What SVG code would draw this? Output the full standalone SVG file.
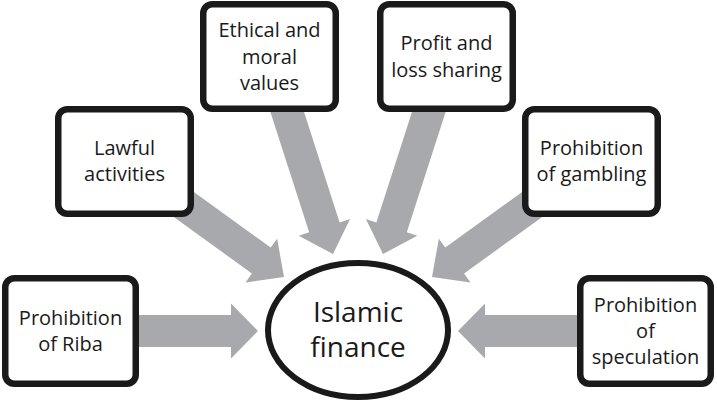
<svg xmlns="http://www.w3.org/2000/svg" width="717" height="403" viewBox="0 0 717 403">
  <style>
    .arrow { fill: #a7a9ac; }
    .box { fill: #ffffff; stroke: #1a1a1a; stroke-width: 6.5; }
    .hub { fill: #ffffff; stroke: #1a1a1a; stroke-width: 6; }
    text { font-family: "Open Sans", "Liberation Sans", sans-serif; fill: #1a1a1a; text-anchor: middle; }
    .lbl { font-size: 20px; }
    .hubtxt { font-size: 28px; }
  </style>
  <g id="connectors">
    <polygon class="arrow" transform="translate(258,331) rotate(0)" points="0,0 -27,-27.5 -27,-16 -158,-16 -158,16 -27,16 -27,27.5"/>
    <polygon class="arrow" transform="translate(284,277) rotate(35.9)" points="0,0 -28,-27 -28,-16 -197,-16 -197,16 -28,16 -28,27"/>
    <polygon class="arrow" transform="translate(333,254) rotate(72.13)" points="0,0 -28,-27 -28,-16 -207,-16 -207,16 -28,16 -28,27"/>
    <polygon class="arrow" transform="translate(383,254) rotate(107.87)" points="0,0 -28,-27 -28,-16 -207,-16 -207,16 -28,16 -28,27"/>
    <polygon class="arrow" transform="translate(432,277) rotate(144.1)" points="0,0 -28,-27 -28,-16 -197,-16 -197,16 -28,16 -28,27"/>
    <polygon class="arrow" transform="translate(458,331) rotate(180)" points="0,0 -27,-27.5 -27,-16 -158,-16 -158,16 -27,16 -27,27.5"/>
  </g>
  <g id="riba">
    <rect class="box" x="5.25" y="278.25" width="130.5" height="105.5" rx="9"/>
    <text class="lbl" x="70.5" y="325">Prohibition</text>
    <text class="lbl" x="70.5" y="351">of Riba</text>
  </g>
  <g id="lawful">
    <rect class="box" x="58.25" y="109.25" width="132.5" height="104.5" rx="9"/>
    <text class="lbl" x="124.5" y="155">Lawful</text>
    <text class="lbl" x="124.5" y="181">activities</text>
  </g>
  <g id="ethical">
    <rect class="box" x="203.25" y="4.25" width="132.5" height="104.5" rx="9"/>
    <text class="lbl" x="269.5" y="37">Ethical and</text>
    <text class="lbl" x="269.5" y="63.5">moral</text>
    <text class="lbl" x="269.5" y="90">values</text>
  </g>
  <g id="profit">
    <rect class="box" x="380.25" y="4.25" width="132.5" height="104.5" rx="9"/>
    <text class="lbl" x="446.5" y="50">Profit and</text>
    <text class="lbl" x="446.5" y="77">loss sharing</text>
  </g>
  <g id="gambling">
    <rect class="box" x="525.25" y="109.25" width="132.5" height="104.5" rx="9"/>
    <text class="lbl" x="591.5" y="155">Prohibition</text>
    <text class="lbl" x="591.5" y="181">of gambling</text>
  </g>
  <g id="speculation">
    <rect class="box" x="580.25" y="278.25" width="130.5" height="105.5" rx="9"/>
    <text class="lbl" x="645.5" y="312">Prohibition</text>
    <text class="lbl" x="645.5" y="337.5">of</text>
    <text class="lbl" x="645.5" y="363.5">speculation</text>
  </g>
  <g id="islamic-finance">
    <ellipse class="hub" cx="358" cy="330" rx="90" ry="67"/>
    <text class="hubtxt" x="358" y="322">Islamic</text>
    <text class="hubtxt" x="358" y="357">finance</text>
  </g>
</svg>
